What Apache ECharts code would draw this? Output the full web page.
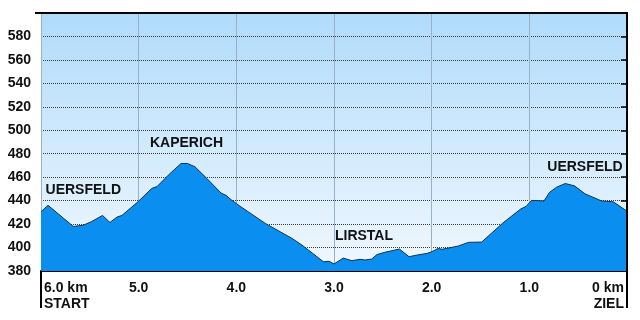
<!DOCTYPE html>
<html>
<head>
<meta charset="utf-8">
<script src="https://cdn.jsdelivr.net/npm/echarts@6/dist/echarts.min.js"></script>
<style>
html,body{margin:0;padding:0;background:#fff;}
#c{width:640px;height:320px;}
</style>
</head>
<body>
<div id="c"></div>
<script>
// distance remaining (km) and elevation (m)
const distanceKm = [6.0, 5.928, 5.669, 5.570, 5.485, 5.370, 5.294, 5.222, 5.171, 5.007, 4.867, 4.812, 4.697, 4.566, 4.500, 4.423, 4.303, 4.157, 4.106, 4.047, 3.963, 3.703, 3.430, 3.328, 3.108, 3.051, 3.000, 2.905, 2.816, 2.734, 2.683, 2.614, 2.560, 2.478, 2.330, 2.232, 2.150, 2.048, 1.997, 1.932, 1.894, 1.727, 1.625, 1.488, 1.270, 1.086, 1.034, 0.976, 0.850, 0.794, 0.720, 0.632, 0.538, 0.430, 0.259, 0.140, 0.000];
const elevation  = [430.5, 436, 418, 419, 422, 427.4, 421.4, 426, 427.4, 439, 450.4, 452, 461.7, 471.7, 471.7, 468.8, 459, 446.5, 444.5, 440.4, 435.3, 420.6, 407.8, 402.1, 387.9, 388.3, 386, 391, 388.8, 390, 389.4, 390.2, 394, 396, 398.7, 392.2, 393.6, 395, 396.5, 399.3, 398.5, 401.3, 404.4, 404.7, 421, 433, 435, 440.2, 439.7, 447, 451.5, 454.6, 452.6, 445.8, 439.7, 439, 431];

// place names: [km, elevation, name]
const placeKm   = [5.567, 4.51, 2.693, 0.430];
const placeElev = [449.2, 489, 409.8, 468.8];
const placeName = ['UERSFELD', 'KAPERICH', 'LIRSTAL', 'UERSFELD'];

const yMin = 380, yMax = 600, yStep = 20;
const xMin = 0, xMax = 6, xStep = 1;

const G = {left: 41, right: 13, top: 13, bottom: 49};
const W = 640, H = 320;

const chart = echarts.init(document.getElementById('c'), null, {renderer: 'canvas'});
const font = '"Liberation Sans", Arial, sans-serif';

const gx0 = G.left, gx1 = W - G.right, gy0 = G.top, gy1 = H - G.bottom;

chart.setOption({
  animation: false,
  textStyle: {fontFamily: font},
  grid: {
    left: G.left, right: G.right, top: G.top, bottom: G.bottom,
    show: true,
    borderWidth: 0,
    backgroundColor: new echarts.graphic.LinearGradient(0, 0, 0, 1, [
      {offset: 0, color: '#b0dbfb'},
      {offset: 1, color: '#f0f8fe'}
    ])
  },
  xAxis: {
    type: 'value', min: xMin, max: xMax, interval: xStep, inverse: true,
    axisLine: {show: true, lineStyle: {color: '#000', width: 2}},
    axisTick: {show: false},
    splitLine: {show: true, lineStyle: {color: '#97b2c6', width: 1, type: 'solid'}},
    axisLabel: {
      color: '#111', fontWeight: 'bold', fontSize: 14, fontFamily: font,
      margin: 9, lineHeight: 16, padding: [0, 3, 0, 3],
      alignMinLabel: 'right', alignMaxLabel: 'left',
      formatter: function (v) {
        if (v === xMax) return v.toFixed(1) + ' km\nSTART';
        if (v === xMin) return '0 km\nZIEL';
        return v.toFixed(1);
      }
    }
  },
  yAxis: {
    type: 'value', min: yMin, max: yMax, interval: yStep,
    axisLine: {show: true, lineStyle: {color: '#000', width: 2}},
    axisTick: {show: true, length: 6, lineStyle: {color: '#000', width: 1.5}},
    splitLine: {show: true, lineStyle: {color: '#3a3a3a', width: 1, type: [1, 1]}},
    axisLabel: {
      color: '#111', fontWeight: 'bold', fontSize: 14, fontFamily: font, margin: 10,
      showMaxLabel: false
    }
  },
  series: [
    {
      type: 'line',
      data: distanceKm.map((k, i) => [k, elevation[i]]),
      symbol: 'none',
      lineStyle: {color: '#16324f', width: 1},
      areaStyle: {color: '#0a8ef0', opacity: 1, origin: 'start'},
      z: 3
    },
    {
      type: 'scatter',
      data: placeKm.map((k, i) => ({value: [k, placeElev[i]], name: placeName[i]})),
      symbolSize: 0,
      itemStyle: {opacity: 1},
      z: 5,
      label: {
        show: true, position: 'inside', formatter: '{b}', opacity: 1,
        color: '#111', fontWeight: 'bold', fontSize: 14, fontFamily: font
      }
    }
  ],
  graphic: [
    {type: 'line', shape: {x1: gx0 - 6, y1: gy0, x2: gx1 + 1, y2: gy0}, style: {stroke: '#000', lineWidth: 2}, z: 10},
    {type: 'line', shape: {x1: gx1, y1: gy0 - 1, x2: gx1, y2: 308}, style: {stroke: '#000', lineWidth: 2}, z: 10},
    {type: 'line', shape: {x1: gx0, y1: gy1, x2: gx0, y2: 308}, style: {stroke: '#000', lineWidth: 2}, z: 10}
  ]
});
</script>
</body>
</html>
